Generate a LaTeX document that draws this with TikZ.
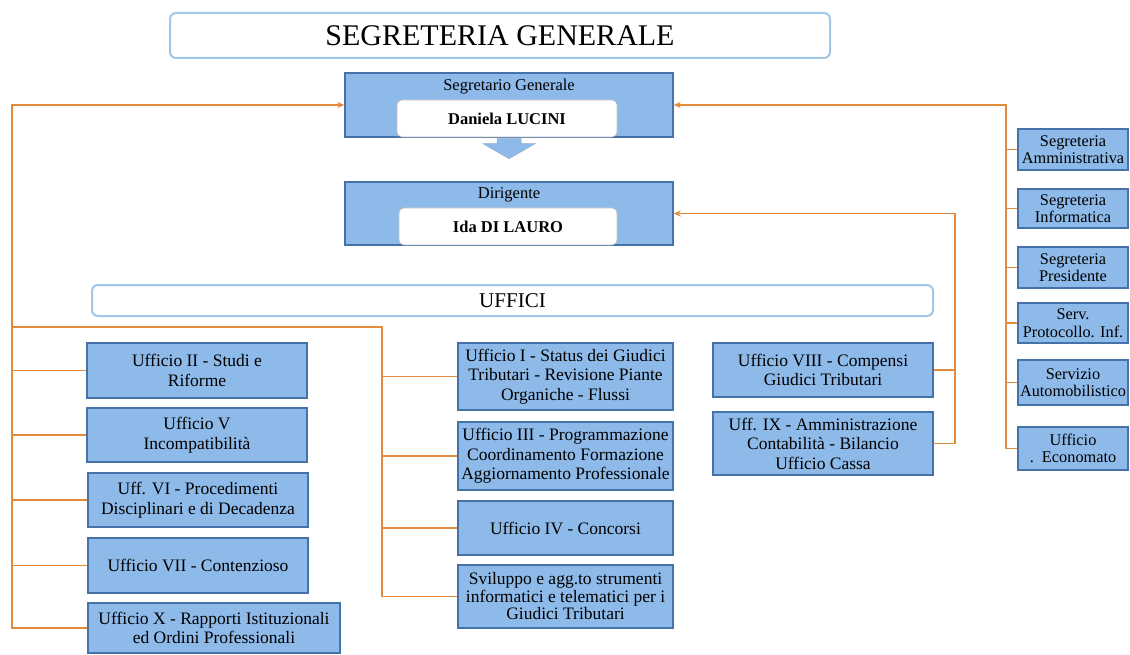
\documentclass[tikz,border=0pt]{standalone}
\usepackage{fontspec}
\setmainfont{Liberation Serif}
\usepackage{xcolor}
\usetikzlibrary{arrows.meta, positioning, shadows, calc}
\definecolor{boxblue}{RGB}{142,186,234}
\definecolor{boxedge}{RGB}{70,114,170}
\definecolor{titleedge}{RGB}{160,198,232}
\definecolor{linkorange}{RGB}{228,138,60}

\begin{document}
\begin{tikzpicture}[x=1pt, y=-1pt,
  office/.style={rectangle, draw=boxedge, line width=1.4pt, fill=boxblue, align=center, inner sep=1pt,
    drop shadow={opacity=0.2, shadow xshift=1pt, shadow yshift=-1pt},
    font=\fontsize{17.5}{19.5}\selectfont},
  secbox/.style={office, minimum width=110pt, font=\fontsize{16.3}{17.5}\selectfont},
  headbox/.style={rectangle, draw=boxedge, line width=1.4pt, fill=boxblue, minimum width=328pt},
  namebox/.style={rectangle, rounded corners=5pt, draw=gray!50, line width=0.6pt, fill=white,
    minimum width=220pt, minimum height=37pt, font=\fontsize{16.5}{19}\selectfont\bfseries},
  banner/.style={rectangle, rounded corners=6pt, draw=titleedge, line width=2pt, fill=white},
  link/.style={draw=linkorange, line width=1.5pt},
  tip/.style={-{Stealth[length=7pt, width=6pt]}}]
\useasboundingbox (0,0) rectangle (1130,655);

% Titles
\node[banner, minimum width=660pt, minimum height=45pt, font=\fontsize{30}{32}\selectfont] (title) at (500,35.5) {SEGRETERIA GENERALE};
\node[banner, minimum width=841pt, minimum height=31pt, font=\fontsize{21}{23}\selectfont] (uffici) at (512.5,300.5) {UFFICI};

% Head boxes
\node[headbox, minimum height=64pt] (segretario) at (509,105) {};
\node[font=\fontsize{16.5}{19}\selectfont] (seglabel) at (509,87) {Segretario Generale};
\node[namebox] (segname) at (507,118.5) {Daniela LUCINI};
\node[headbox, minimum height=63pt] (dirigente) at (509,213.5) {};
\node[font=\fontsize{16.5}{19}\selectfont] (dirlabel) at (509,195) {Dirigente};
\node[namebox, minimum width=218pt] (dirname) at (508,226.5) {Ida DI LAURO};

% Block arrow
\fill[boxblue, draw=boxedge!60, line width=0.5pt] ($(segretario.south)+(-12,1)$) -- ++(0,5) -- ++(-14,0) -- ($(segretario.south)+(0,21)$)
  -- ($(segretario.south)+(26,6)$) -- ++(-14,0) -- ++(0,-5) -- cycle;

% Left offices
\node[office, minimum width=220pt, minimum height=55pt] (ufficio2) at (197,370.5) {Ufficio II - Studi e\\Riforme};
\node[office, minimum width=220pt, minimum height=54pt] (ufficio5) at (197,435) {Ufficio V\\Incompatibilità};
\node[office, minimum width=220pt, minimum height=54pt] (ufficio6) at (198,500) {Uff. VI - Procedimenti\\Disciplinari e di Decadenza};
\node[office, minimum width=220pt, minimum height=55pt] (ufficio7) at (198,565.5) {Ufficio VII - Contenzioso};
\node[office, minimum width=252pt, minimum height=50pt] (ufficio10) at (214,628) {Ufficio X - Rapporti Istituzionali\\ed Ordini Professionali};

% Middle offices
\node[office, minimum width=215pt, minimum height=67pt] (ufficio1) at (565.5,376.5) {Ufficio I - Status dei Giudici\\Tributari - Revisione Piante\\Organiche - Flussi};
\node[office, minimum width=215pt, minimum height=68pt] (ufficio3) at (565.5,456) {Ufficio III - Programmazione\\Coordinamento Formazione\\Aggiornamento Professionale};
\node[office, minimum width=215pt, minimum height=54pt] (ufficio4) at (565.5,528) {Ufficio IV - Concorsi};
\node[office, minimum width=215pt, minimum height=63pt, font=\fontsize{17.5}{17.5}\selectfont] (sviluppo) at (565.5,596.5) {Sviluppo e agg.to strumenti\\informatici e telematici per i\\Giudici Tributari};

% Right offices
\node[office, minimum width=220pt, minimum height=54pt] (ufficio8) at (823,370) {Ufficio VIII - Compensi\\Giudici Tributari};
\node[office, minimum width=220pt, minimum height=63pt] (ufficio9) at (823,443.5) {Uff. IX - Amministrazione\\Contabilità - Bilancio\\Ufficio Cassa};

% Secretariats
\node[secbox, minimum height=41pt] (segamm) at (1073,149.5) {Segreteria\\Amministrativa};
\node[secbox, minimum height=39pt] (seginf) at (1073,208.5) {Segreteria\\Informatica};
\node[secbox, minimum height=41pt] (segpres) at (1073,267.5) {Segreteria\\Presidente};
\node[secbox, minimum height=40pt] (servprot) at (1073,323) {Serv.\\Protocollo. Inf.};
\node[secbox, minimum height=45pt] (servauto) at (1073,382.5) {Servizio\\Automobilistico};
\node[secbox, minimum height=43pt] (economato) at (1073,448.5) {Ufficio\\.\ \ Economato};

% Bus corners
\coordinate (lbus) at (12,105);
\coordinate (mbus) at (382,327);
\coordinate (rbus) at (955,213.5);
\coordinate (sbus) at (1006,105);

% Left connectors
\draw[link, tip] (ufficio10.west) -| (lbus) -- (segretario.west);
\foreach \n in {ufficio2, ufficio5, ufficio6, ufficio7}
  \draw[link] (\n.west) -- (\n.west -| lbus);
\draw[link] (lbus |- mbus) -- (mbus) |- (sviluppo.west);
\foreach \n in {ufficio1, ufficio3, ufficio4}
  \draw[link] (\n.west) -- (\n.west -| mbus);

% Right connectors
\draw[link, tip] (ufficio9.east) -| (rbus) -- (dirigente.east);
\draw[link] (ufficio8.east) -- (ufficio8.east -| rbus);
\draw[link, tip] (economato.west) -| (sbus) -- (segretario.east);
\foreach \n in {segamm, seginf, segpres, servprot, servauto}
  \draw[link] (\n.west) -- (\n.west -| sbus);
\end{tikzpicture}
\end{document}
